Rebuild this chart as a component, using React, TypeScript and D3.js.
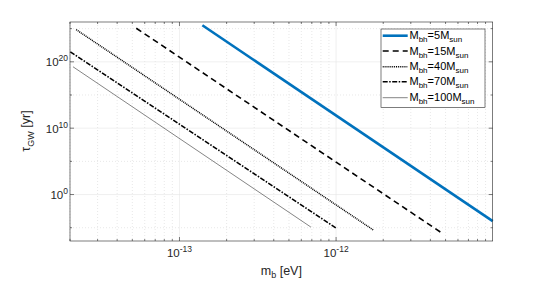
import React from "react";
import * as d3 from "d3";

const seriesNames = ["5", "15", "40", "70", "100"];
const massStart = [1.4e-13, 5.3e-14, 2.19e-14, 2.01e-14, 2.09e-14];
const massEnd = [1.0e-11, 4.64e-12, 1.73e-12, 1.0e-12, 6.9e-13];
const tauStart = [3.2e25, 1.15e25, 7.2e24, 3.2e21, 1.8e19];
const tauEnd = [1.0e-4, 2.2e-6, 4.5e-6, 8.9e-6, 1.26e-5];
const xTicks = [1e-13, 1e-12];
const xTickExp = ["-13", "-12"];
const yTicks = [1, 1e10, 1e20];
const yTickExp = ["0", "10", "20"];
const yMinor = [1e-5, 1e5, 1e15, 1e25];

const W = 545, H = 284;
const L = 70, R = 492.7, T = 22, B = 241;

const styles = [
  { color: "#0072BD", width: 2.6, dash: "" },
  { color: "#000", width: 1.6, dash: "6,4" },
  { color: "#000", width: 1.5, dash: "1,0.9" },
  { color: "#000", width: 1.6, dash: "5,1.5,1.5,1.5" },
  { color: "#333", width: 0.6, dash: "" },
];

export default function App() {
  const x = d3.scaleLog().domain([2e-14, 1e-11]).range([L, R]);
  const y = d3.scaleLog().domain([1e-7, 1e26]).range([B, T]);
  const line = d3.line<[number, number]>().x(d => x(d[0])).y(d => y(d[1]));
  const xMinor: number[] = [];
  for (const dec of [1e-14, 1e-13, 1e-12]) {
    for (let k = 2; k <= 9; k++) {
      const v = k * dec;
      if (v >= 2e-14 && v <= 1e-11) xMinor.push(v);
    }
  }
  const axisColor = "#262626";
  const font = "Liberation Sans, Arial, sans-serif";
  const legY = [35.7, 51, 66.7, 81.7, 97.7];
  return (
    <svg width={W} height={H} style={{ position: "absolute", left: 0, top: 0 }} fontFamily={font}>
      <rect x={0} y={0} width={W} height={H} fill="#fff" />
      <rect x={L} y={T} width={R - L} height={B - T} fill="#fff" />
      {xMinor.map((v, i) => (
        <line key={"xm" + i} x1={x(v)} x2={x(v)} y1={T} y2={B} stroke="#d8d8d8" strokeWidth={0.6} strokeDasharray="1,2" />
      ))}
      {yMinor.map((v, i) => (
        <line key={"ym" + i} x1={L} x2={R} y1={y(v)} y2={y(v)} stroke="#d8d8d8" strokeWidth={0.6} strokeDasharray="1,2" />
      ))}
      {xTicks.map((v, i) => (
        <line key={"xg" + i} x1={x(v)} x2={x(v)} y1={T} y2={B} stroke="#e6e6e6" strokeWidth={0.6} />
      ))}
      {yTicks.map((v, i) => (
        <line key={"yg" + i} x1={L} x2={R} y1={y(v)} y2={y(v)} stroke="#e6e6e6" strokeWidth={0.6} />
      ))}
      {seriesNames.map((n, i) => (
        <path key={"s" + i}
          d={line([[massStart[i], tauStart[i]], [massEnd[i], tauEnd[i]]]) || ""}
          fill="none" stroke={styles[i].color} strokeWidth={styles[i].width}
          strokeDasharray={styles[i].dash || undefined} />
      ))}
      <rect x={L} y={T} width={R - L} height={B - T} fill="none" stroke={axisColor} strokeWidth={0.6} />
      {xTicks.map((v, i) => (
        <g key={"xt" + i}>
          <line x1={x(v)} x2={x(v)} y1={B} y2={B - 4} stroke={axisColor} strokeWidth={0.6} />
          <line x1={x(v)} x2={x(v)} y1={T} y2={T + 4} stroke={axisColor} strokeWidth={0.6} />
          <text x={x(v)} y={256.7} fontSize={11.5} fill={axisColor} textAnchor="middle">
            10<tspan dy={-5} fontSize={8.5}>{xTickExp[i]}</tspan>
          </text>
        </g>
      ))}
      {xMinor.map((v, i) => (
        <g key={"xmt" + i}>
          <line x1={x(v)} x2={x(v)} y1={B} y2={B - 2} stroke={axisColor} strokeWidth={0.6} />
          <line x1={x(v)} x2={x(v)} y1={T} y2={T + 2} stroke={axisColor} strokeWidth={0.6} />
        </g>
      ))}
      {yTicks.map((v, i) => (
        <g key={"yt" + i}>
          <line x1={L} x2={L + 4} y1={y(v)} y2={y(v)} stroke={axisColor} strokeWidth={0.6} />
          <line x1={R} x2={R - 4} y1={y(v)} y2={y(v)} stroke={axisColor} strokeWidth={0.6} />
          <text x={L - 2} y={y(v) + 4.5} fontSize={11.5} fill={axisColor} textAnchor="end">
            10<tspan dy={-5} fontSize={8.5}>{yTickExp[i]}</tspan>
          </text>
        </g>
      ))}
      {yMinor.map((v, i) => (
        <g key={"ymt" + i}>
          <line x1={L} x2={L + 2} y1={y(v)} y2={y(v)} stroke={axisColor} strokeWidth={0.6} />
          <line x1={R} x2={R - 2} y1={y(v)} y2={y(v)} stroke={axisColor} strokeWidth={0.6} />
        </g>
      ))}
      <text x={(L + R) / 2} y={275} fontSize={12.5} fill={axisColor} textAnchor="middle">
        m<tspan dy={3} fontSize={9}>b</tspan><tspan dy={-3}> [eV]</tspan>
      </text>
      <text transform={`translate(${30},${131}) rotate(-90)`} fontSize={12.5} fill={axisColor} textAnchor="middle">
        τ<tspan dy={3.5} fontSize={9}>GW</tspan><tspan dy={-3.5}> [yr]</tspan>
      </text>
      <rect x={381} y={29} width={104} height={78.3} fill="#fff" stroke={axisColor} strokeWidth={0.6} />
      {seriesNames.map((n, i) => (
        <g key={"lg" + i}>
          <line x1={382.7} x2={407.7} y1={legY[i]} y2={legY[i]} stroke={styles[i].color}
            strokeWidth={styles[i].width} strokeDasharray={styles[i].dash || undefined} />
          <text x={409.5} y={legY[i] + 3.5} fontSize={11} fill="#000">
            M<tspan dy={3} fontSize={8}>bh</tspan><tspan dy={-3}>={n}M</tspan><tspan dy={3} fontSize={8}>sun</tspan>
          </text>
        </g>
      ))}
    </svg>
  );
}
